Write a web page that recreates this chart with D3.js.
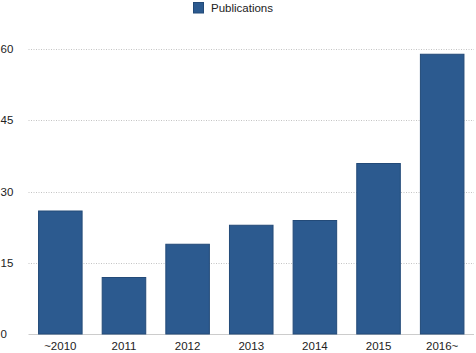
<!DOCTYPE html>
<html>
    <head>
        <meta charset="utf-8">
        <style>
          body { margin: 0; background: #fff; }
          text { font-family: "Liberation Sans", Arial, sans-serif; fill: #222; }
        </style>
    </head>
    <body>
        <script src="https://d3js.org/d3.v7.min.js"></script>
        <script>
          const years = ['~2010', '2011', '2012', '2013', '2014', '2015', '2016~'];
          const publications = [26, 12, 19, 23, 24, 36, 59];
          const yTicks = [0, 15, 30, 45, 60];
          const seriesName = 'Publications';

          function makeChart() {
            const width = 476, height = 353;
            const margin = { top: 49, right: 2, bottom: 19, left: 28.5 };

            const svg = d3.select('body').append('svg')
              .attr('width', width)
              .attr('height', height);

            const x = d3.scaleBand()
              .domain(years)
              .range([margin.left, width - margin.right])
              .paddingInner(0.3)
              .paddingOuter(0.15);

            const y = d3.scaleLinear()
              .domain([0, 60])
              .range([height - margin.bottom, margin.top]);

            // grid lines
            svg.append('g')
              .selectAll('line')
              .data(yTicks.filter(d => d > 0))
              .join('line')
              .attr('x1', margin.left)
              .attr('x2', width - margin.right)
              .attr('y1', d => Math.round(y(d)) + 0.5)
              .attr('y2', d => Math.round(y(d)) + 0.5)
              .attr('stroke', '#c4c4c4')
              .attr('stroke-dasharray', '1,1.5');

            // baseline
            svg.append('line')
              .attr('x1', margin.left)
              .attr('x2', width - margin.right)
              .attr('y1', Math.round(y(0)) + 0.5)
              .attr('y2', Math.round(y(0)) + 0.5)
              .attr('stroke', '#ccc');

            // y labels
            svg.append('g')
              .selectAll('text')
              .data(yTicks)
              .join('text')
              .attr('x', 0.5)
              .attr('y', d => y(d))
              .attr('dy', '0.35em')
              .attr('font-size', 11.5)
              .text(d => d);

            // bars
            svg.append('g')
              .selectAll('rect')
              .data(years)
              .join('rect')
              .attr('x', d => x(d) + 0.5)
              .attr('y', (d, i) => y(publications[i]) + 0.5)
              .attr('width', x.bandwidth() - 1)
              .attr('height', (d, i) => y(0) - y(publications[i]) - 0.5)
              .attr('fill', '#2c5a8f')
              .attr('stroke', '#234a78');

            // x labels
            svg.append('g')
              .selectAll('text')
              .data(years)
              .join('text')
              .attr('x', d => x(d) + x.bandwidth() / 2)
              .attr('y', height - 3)
              .attr('text-anchor', 'middle')
              .attr('font-size', 11.5)
              .text(d => d);

            // legend
            const legend = svg.append('g').attr('transform', 'translate(193,2)');
            legend.append('rect')
              .attr('x', 0.5).attr('y', 0.5)
              .attr('width', 10).attr('height', 10.5)
              .attr('fill', '#2c5a8f')
              .attr('stroke', '#234a78');
            legend.append('text')
              .attr('x', 18)
              .attr('y', 6)
              .attr('dy', '0.35em')
              .attr('font-size', 11.5)
              .text(seriesName);
          }

          makeChart();
        </script>
    </body>
</html>
